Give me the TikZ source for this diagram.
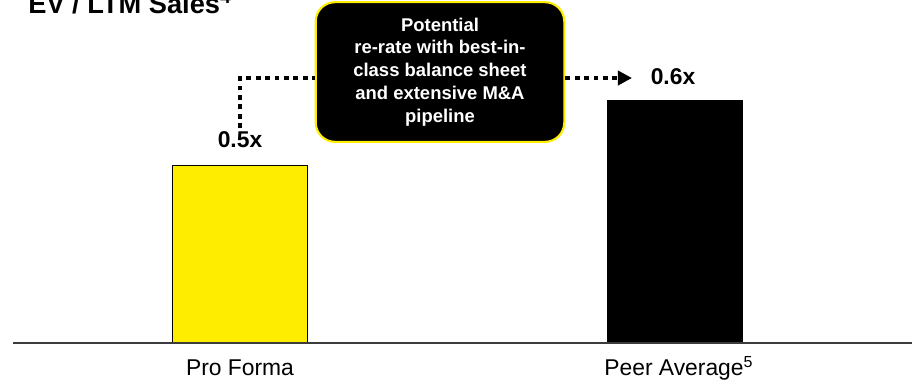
\documentclass[tikz,border=0pt]{standalone}
\usepackage{fontspec}
\setmainfont{Liberation Sans}
\usetikzlibrary{arrows.meta}

\definecolor{proyellow}{RGB}{255,237,0}
\definecolor{axisgray}{RGB}{60,60,60}

\begin{document}
\begin{tikzpicture}[x=0.02cm,y=-0.02cm,
    bar/.style={draw=black,line width=0.4pt,anchor=south,minimum width=77pt,inner sep=0pt},
    valuelabel/.style={font=\fontsize{13pt}{15pt}\selectfont\bfseries,inner sep=2pt},
    catlabel/.style={font=\fontsize{13pt}{15pt}\selectfont,anchor=base,inner sep=0pt},
    dotline/.style={line width=2.27pt,dash pattern=on 2.8pt off 2.55pt},
    callout/.style={draw=proyellow,line width=1.2pt,fill=black,text=white,rounded corners=11pt,
        minimum width=141.5pt,minimum height=79.5pt,align=center,
        font=\fontsize{10.5pt}{13pt}\selectfont\bfseries}]
    \useasboundingbox (0,0) rectangle (912,380);
    % title
    \node[anchor=base west,inner sep=0pt,font=\fontsize{15.5pt}{18pt}\selectfont\bfseries] (title) at (28,13) {EV / LTM Sales\textsuperscript{4}};
    % bars
    \begin{scope}
        \node[bar,fill=proyellow,minimum height=101pt] (barPro) at (240,343) {};
        \node[bar,fill=black,minimum height=137.8pt] (barPeer) at (674.5,343) {};
    \end{scope}
    \draw[axisgray,line width=1.1pt] (13,343) -- (912,343);
    % labels
    \begin{scope}[every node/.style={catlabel}]
        \node (catPro) at (240,375) {Pro Forma};
        \node (catPeer) at (674,375) {Peer Average\rlap{\textsuperscript{5}}};
    \end{scope}
    \node[valuelabel] (valPro) at (240,140) {0.5x};
    \node[valuelabel] (valPeer) at (673,77) {0.6x};
    % callout
    \node[callout] (rerate) at (440,72) {Potential\\re-rate with best-in-\\class balance sheet\\and extensive M\&A\\pipeline};
    \coordinate (turn) at (240,78);
    \coordinate (tip) at (632,78);
    \draw[dotline] (valPro.north) -- (turn) -- (turn -| rerate.west);
    \draw[dotline,-{Triangle[length=8pt,width=8pt]}] (rerate.east |- turn) -- (tip);
\end{tikzpicture}
\end{document}
